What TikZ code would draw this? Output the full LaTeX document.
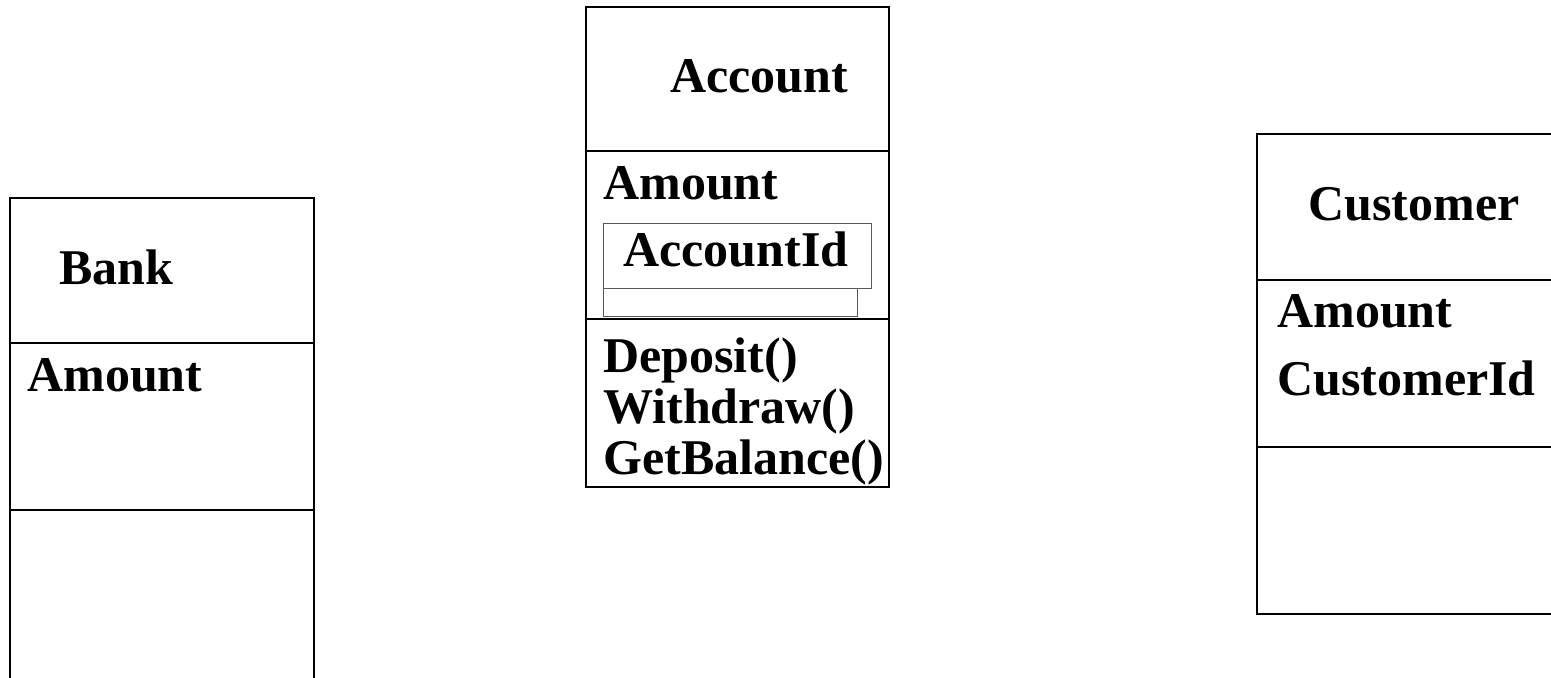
\documentclass[tikz,border=0pt]{standalone}
\usepackage{fontspec}
\setmainfont{Liberation Serif}
\usepackage{tikz}

\tikzset{
  classline/.style={line width=1.1pt, black},
  thinline/.style={line width=0.5pt, black!65},
  lbl/.style={anchor=base west, inner sep=0pt, font=\fontsize{25}{30}\selectfont\bfseries}
}

\begin{document}
\begin{tikzpicture}[x=0.5pt, y=-0.5pt]
   \useasboundingbox (0,0) rectangle (1551,677);
   \clip (0,0) rectangle (1551,677);
   % Bank
   \draw [classline] (10,198) rectangle (314,700);
   \draw [classline] (10,343) -- (314,343);
   \draw [classline] (10,510) -- (314,510);
   \node [lbl] (bankname) at (59,284) {Bank};
   \node [lbl] (bankamt) at (27,391) {Amount};
   % Account
   \draw [classline] (586,7) rectangle (889,487);
   \draw [classline] (586,151) -- (889,151);
   \draw [classline] (586,319) -- (889,319);
   \draw [thinline] (603,288) rectangle (857,316);
   \draw [thinline, fill=white] (603,223) rectangle (871,288);
   \node [lbl] (accname) at (670,92) {Account};
   \node [lbl] (accamt) at (603,199) {Amount};
   \node [lbl] (accid) at (623,266) {AccountId};
   \node [lbl] (deposit) at (603,372) {Deposit()};
   \node [lbl] (withdraw) at (603,423) {Withdraw()};
   \node [lbl] (balance) at (603,474) {GetBalance()};
   % Customer
   \draw [classline] (1600,134) -- (1257,134) -- (1257,614) -- (1600,614);
   \draw [classline] (1257,280) -- (1600,280);
   \draw [classline] (1257,447) -- (1600,447);
   \node [lbl] (custname) at (1308,220) {Customer};
   \node [lbl] (custamt) at (1277,327) {Amount};
   \node [lbl] (custid) at (1277,395) {CustomerId};
\end{tikzpicture}
\end{document}
